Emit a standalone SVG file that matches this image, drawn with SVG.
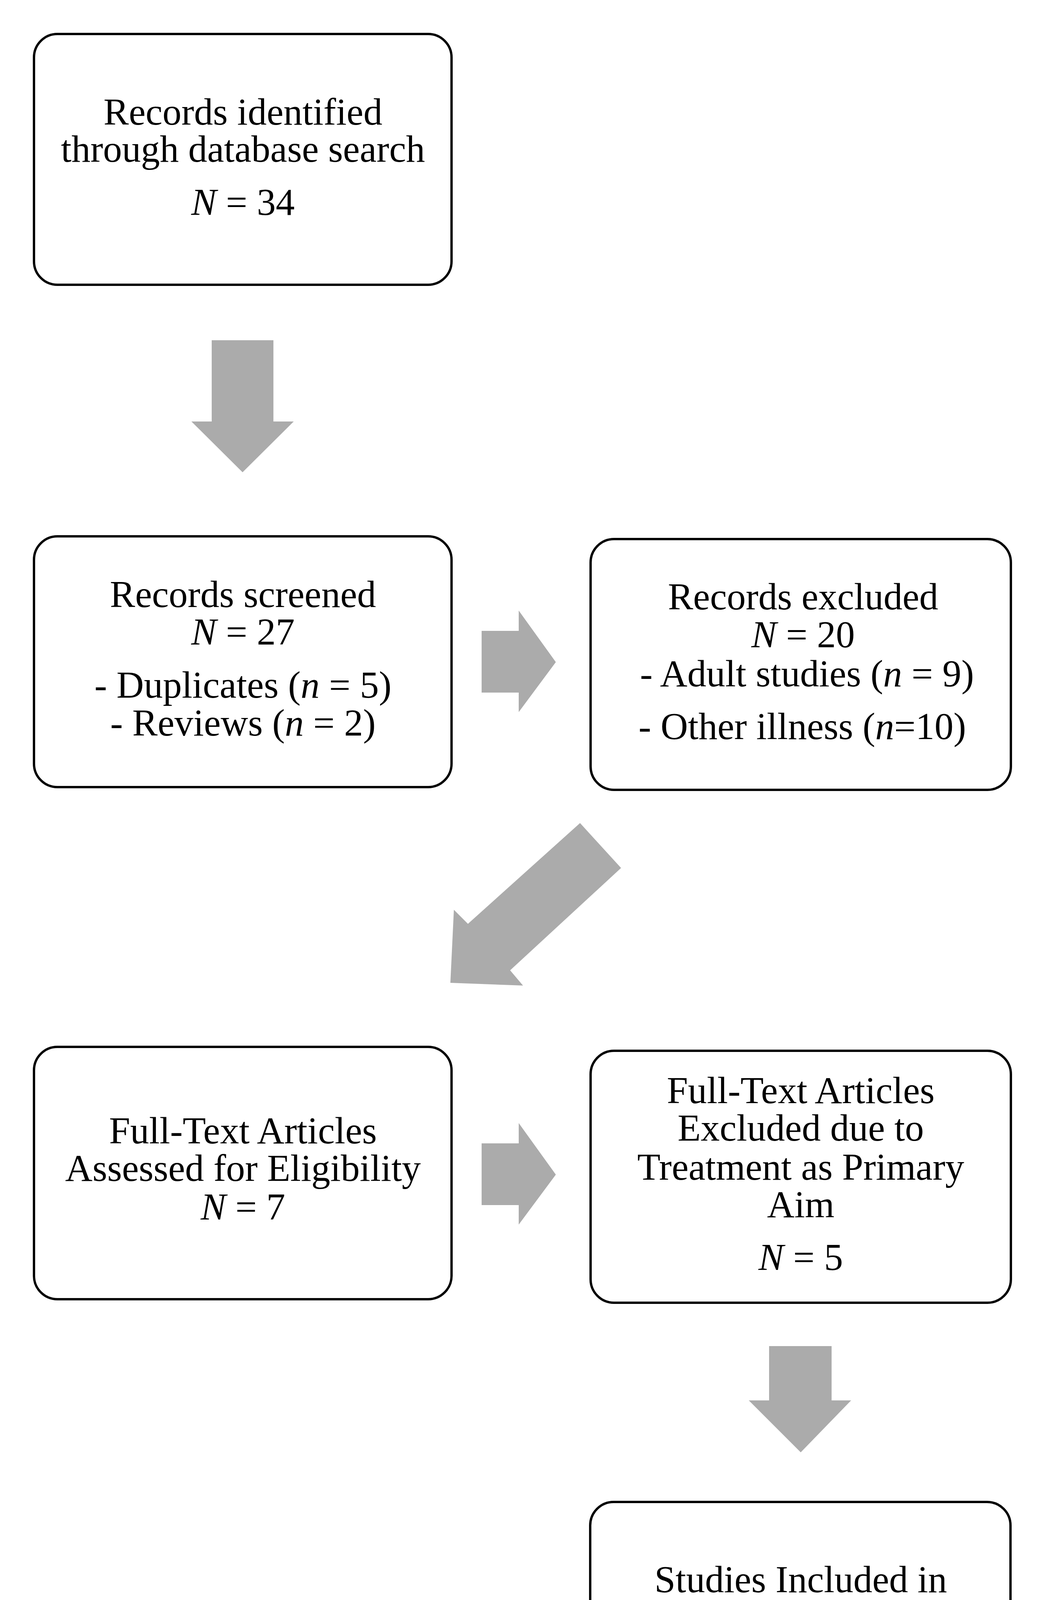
<svg xmlns="http://www.w3.org/2000/svg" width="2660" height="4566" viewBox="0 0 2660 4566">
<style>
.box{fill:#ffffff;stroke:#000000;stroke-width:6}
.arrow{fill:#ababab;stroke:none}
text{font-family:"Liberation Serif","Times New Roman",serif;font-size:97px;fill:#000000;text-anchor:middle}
.i{font-style:italic}
</style>
<rect width="2660" height="4566" fill="#ffffff"/>
<g id="connectors">
<polygon class="arrow" points="542,871 700,871 700,1079 752,1079 621,1209 490,1079 542,1079"/>
<polygon class="arrow" points="1233,1615 1328,1615 1328,1563 1423,1695 1328,1823 1328,1773 1233,1773"/>
<polygon class="arrow" points="1485,2107 1590,2222 1306,2484 1339,2523 1153,2516 1162,2329 1198,2365"/>
<polygon class="arrow" points="1233,2927 1328,2927 1328,2875 1423,3007 1328,3135 1328,3085 1233,3085"/>
<polygon class="arrow" points="1969,3446 2129,3446 2129,3585 2179,3585 2050,3718 1917,3585 1969,3585"/>
</g>
<g id="node1">
<rect class="box" x="87" y="87" width="1069" height="642" rx="60" ry="60"/>
<text x="622" y="319">Records identified</text>
<text x="622" y="414">through database search</text>
<text x="622" y="550"><tspan class="i">N</tspan> = 34</text>
</g>
<g id="node2">
<rect class="box" x="87" y="1373" width="1069" height="642" rx="60" ry="60"/>
<text x="622" y="1554">Records screened</text>
<text x="622" y="1650"><tspan class="i">N</tspan> = 27</text>
<text x="622" y="1786">- Duplicates (<tspan class="i">n</tspan> = 5)</text>
<text x="622" y="1883">- Reviews (<tspan class="i">n</tspan> = 2)</text>
</g>
<g id="node3">
<rect class="box" x="1512" y="1380" width="1076" height="642" rx="60" ry="60"/>
<text x="2056" y="1560">Records excluded</text>
<text x="2056" y="1657"><tspan class="i">N</tspan> = 20</text>
<text x="2066" y="1757">- Adult studies (<tspan class="i">n</tspan> = 9)</text>
<text x="2054" y="1892">- Other illness (<tspan class="i">n</tspan>=10)</text>
</g>
<g id="node4">
<rect class="box" x="87" y="2680" width="1069" height="646" rx="60" ry="60"/>
<text x="622" y="2927">Full-Text Articles</text>
<text x="622" y="3023">Assessed for Eligibility</text>
<text x="622" y="3122"><tspan class="i">N</tspan> = 7</text>
</g>
<g id="node5">
<rect class="box" x="1512" y="2690" width="1076" height="645" rx="60" ry="60"/>
<text x="2050" y="2824">Full-Text Articles</text>
<text x="2050" y="2920">Excluded due to</text>
<text x="2050" y="3020">Treatment as Primary</text>
<text x="2050" y="3116">Aim</text>
<text x="2050" y="3251"><tspan class="i">N</tspan> = 5</text>
</g>
<g id="node6">
<rect class="box" x="1511" y="3845" width="1076" height="642" rx="60" ry="60"/>
<text x="2050" y="4076">Studies Included in</text>
<text x="2050" y="4174">Review</text>
<text x="2050" y="4308"><tspan class="i">N</tspan> = 2</text>
</g>
</svg>
